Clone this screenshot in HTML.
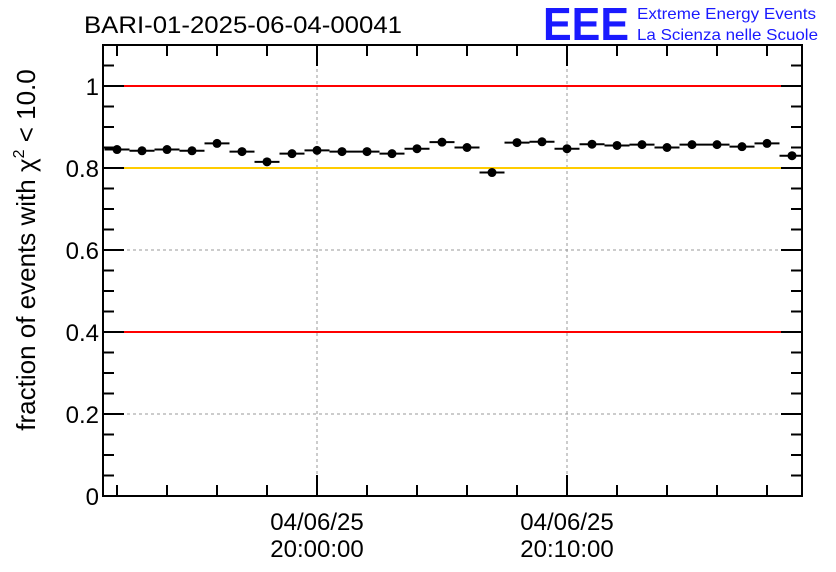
<!DOCTYPE html>
<html><head><meta charset="utf-8"><style>
body{margin:0;background:#fff;}
svg{display:block;font-family:"Liberation Sans",sans-serif;}
</style></head><body>
<svg id="chart" width="836" height="572" xmlns="http://www.w3.org/2000/svg">
<defs><clipPath id="pc"><rect x="104" y="46" width="697" height="449"/></clipPath></defs>
<text x="84" y="33" font-size="24.5" fill="#000" textLength="318" lengthAdjust="spacingAndGlyphs">BARI-01-2025-06-04-00041</text>
<g>
<text x="543" y="40" font-size="46" font-weight="bold" fill="#1a1aff" textLength="86" lengthAdjust="spacingAndGlyphs">EEE</text>
<text x="637" y="19" font-size="16" fill="#1a1aff" textLength="179" lengthAdjust="spacingAndGlyphs">Extreme Energy Events</text>
<text x="637" y="40" font-size="16" fill="#1a1aff" textLength="181" lengthAdjust="spacingAndGlyphs">La Scienza nelle Scuole</text>
</g>
<g id="grid"></g>
<g id="refs"></g>
<g id="axes"></g>
<g id="marks" clip-path="url(#pc)"></g>
<text transform="translate(35,250) rotate(-90)" text-anchor="middle" font-size="26" fill="#000">fraction of events with χ<tspan font-size="16" dy="-11">2</tspan><tspan dy="11"> &lt; 10.0</tspan></text>
</svg>
<script>
const minutes=[-8,-7,-6,-5,-4,-3,-2,-1,0,1,2,3,4,5,6,7,8,9,10,11,12,13,14,15,16,17,18,19];
const fractions=[0.845,0.842,0.845,0.842,0.860,0.840,0.815,0.835,0.843,0.840,0.840,0.835,0.847,0.863,0.850,0.789,0.862,0.864,0.847,0.858,0.855,0.857,0.850,0.857,0.857,0.852,0.860,0.830];
const yTicks=[0,0.2,0.4,0.6,0.8,1];
const yTickLabels=["0","0.2","0.4","0.6","0.8","1"];
const xMajor=[0,10];
const xMajorLabels=[["04/06/25","20:00:00"],["04/06/25","20:10:00"]];
const refLines=[{v:1,c:"#ff0000"},{v:0.8,c:"#ffcc00"},{v:0.4,c:"#ff0000"}];
const L=103,R=802,T=45,B=496,xMin=-8.56,xMax=19.4,yMin=0,yMax=1.1;
const X=m=>L+(m-xMin)/(xMax-xMin)*(R-L);
const Y=v=>B-(v-yMin)/(yMax-yMin)*(B-T);
const NS="http://www.w3.org/2000/svg";
function mk(p,t,a){const e=document.createElementNS(NS,t);for(const k in a)e.setAttribute(k,a[k]);document.getElementById(p).appendChild(e);return e;}
yTicks.forEach(v=>{if(v>0&&v<1){const e=mk("grid","line",{x1:L,x2:R,y1:Y(v),y2:Y(v),stroke:"#999","stroke-dasharray":"3,3"});

}});
xMajor.forEach(m=>{const e=mk("grid","line",{x1:X(m),x2:X(m),y1:T,y2:B,stroke:"#999","stroke-dasharray":"3,3"});

});
refLines.forEach(r=>{const e=mk("refs","line",{x1:L,x2:R,y1:Y(r.v),y2:Y(r.v),stroke:r.c,"stroke-width":2});

});
const f=mk("axes","rect",{x:L,y:T,width:R-L,height:B-T,fill:"none",stroke:"#000","stroke-width":2});


for(let v=0;v<=1.1001;v+=0.05){const major=Math.abs(v*5-Math.round(v*5))<1e-6;const len=major?21:11;
mk("axes","line",{x1:L,x2:L+len,y1:Y(v),y2:Y(v),stroke:"#000","stroke-width":2});
mk("axes","line",{x1:R,x2:R-len,y1:Y(v),y2:Y(v),stroke:"#000","stroke-width":2});}
yTicks.forEach((v,i)=>{const t=mk("axes","text",{x:L-4,y:Y(v)+9,"text-anchor":"end","font-size":24});t.textContent=yTickLabels[i];

});
for(let m=-8;m<=19;m+=2){const major=m%10===0;const len=major?21:11;
mk("axes","line",{x1:X(m),x2:X(m),y1:B,y2:B-len,stroke:"#000","stroke-width":2});
mk("axes","line",{x1:X(m),x2:X(m),y1:T,y2:T+len,stroke:"#000","stroke-width":2});}
xMajor.forEach((m,i)=>{xMajorLabels[i].forEach((s,j)=>{const t=mk("axes","text",{x:X(m),y:530+j*27,"text-anchor":"middle","font-size":24});t.textContent=s;

});});
const bw=(X(1)-X(0))/2;
minutes.forEach((m,i)=>{const x=X(m),y=Y(fractions[i]);
const l=mk("marks","line",{x1:x-bw,x2:x+bw,y1:y,y2:y,stroke:"#000","stroke-width":2});


const c=mk("marks","circle",{cx:x,cy:y,r:4.5,fill:"#000"});

});
</script>
</body></html>
